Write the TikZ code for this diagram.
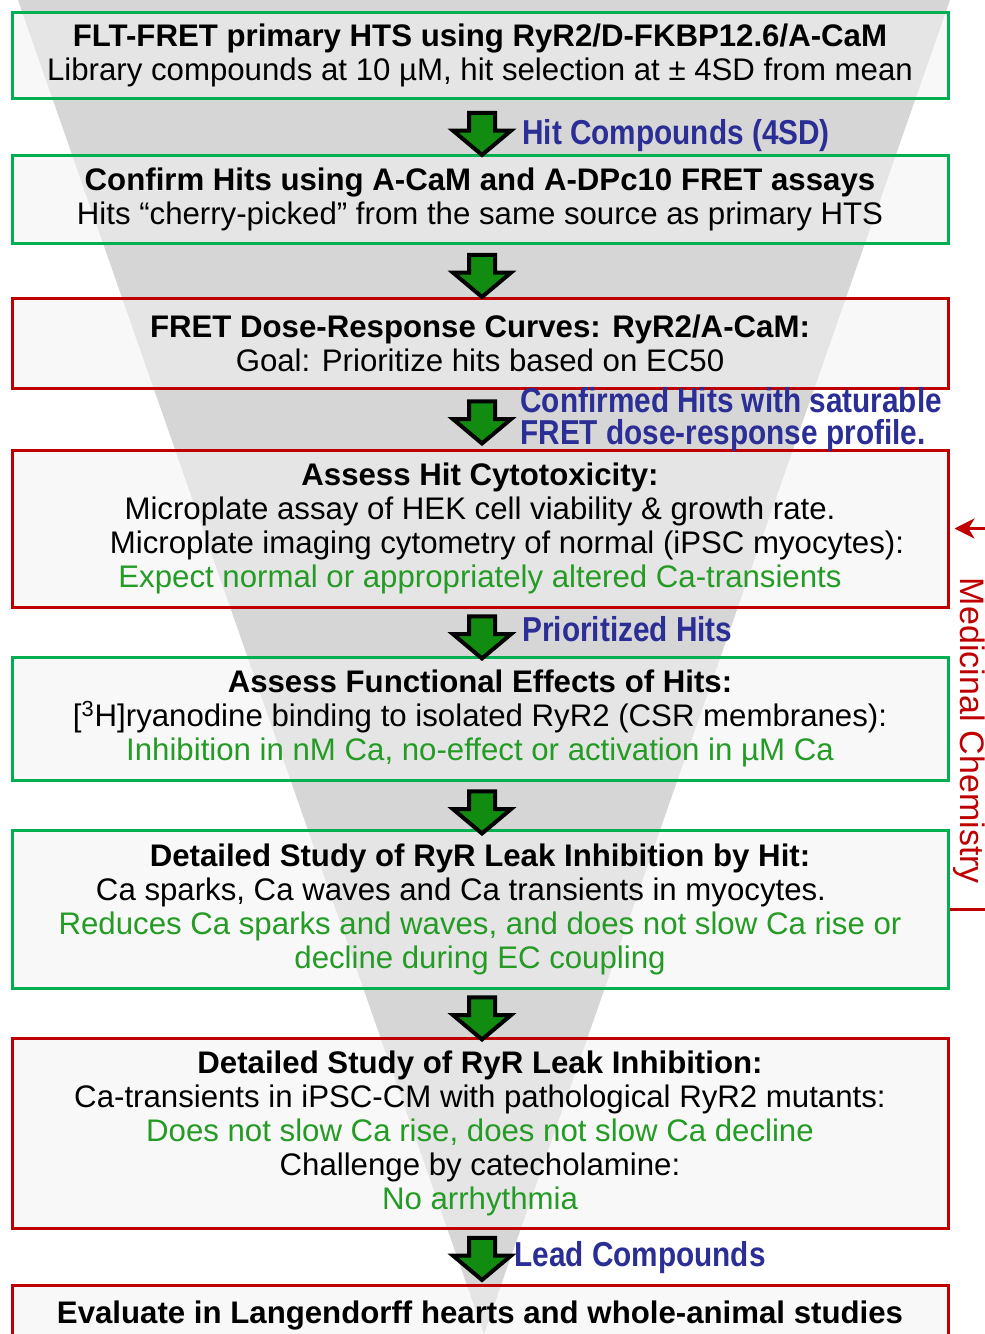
\documentclass[tikz,border=0pt]{standalone}
\usepackage{fontspec}
\setmainfont{Liberation Sans}
\newfontfamily\narrowfont[FakeStretch=0.86]{Liberation Sans}
\usetikzlibrary{shapes.arrows,calc,arrows.meta}
\definecolor{boxgreen}{HTML}{00B050}
\definecolor{boxred}{HTML}{C00000}
\definecolor{txtgreen}{HTML}{249B24}
\definecolor{txtblue}{HTML}{2B2E95}
\definecolor{arrgreen}{HTML}{118C11}
\definecolor{funnelgray}{HTML}{D6D6D6}
\newcommand{\grn}[1]{\textcolor{txtgreen}{#1}}

\begin{document}
\begin{tikzpicture}[x=0.5pt,y=-0.5pt,
	stage/.style={draw,line width=1.5pt,fill=black!5,fill opacity=0.55,text opacity=1,minimum width=468pt,align=center,inner sep=0pt,font=\fontsize{15.6}{17}\selectfont},
	okstage/.style={stage,draw=boxgreen},
	badstage/.style={stage,draw=boxred},
	downarrow/.style={single arrow,shape border rotate=270,draw=black,line width=2pt,fill=arrgreen,minimum height=21pt,inner sep=5.5pt,single arrow head extend=8pt,single arrow tip angle=100},
	hitlabel/.style={text=txtblue,anchor=west,align=left,inner sep=0pt,font=\narrowfont\bfseries\fontsize{17.3}{16}\selectfont}]
	\useasboundingbox (0,0) rectangle (985,1334);
	\clip (0,0) rectangle (985,1334);
	% funnel behind the stages
	\fill[funnelgray] (18,0) -- (950,0) -- (484,1334) -- cycle;

	\node[okstage,minimum height=43pt] (b1) at (480,55) {\textbf{FLT-FRET primary HTS using RyR2/D-FKBP12.6/A-CaM}\\Library compounds at 10 µM, hit selection at ± 4SD from mean};
	\node[okstage,minimum height=44pt] (b2) at (480,199) {\textbf{Confirm Hits using A-CaM and A-DPc10 FRET assays}\\Hits “cherry-picked” from the same source as primary HTS};
	\node[badstage,minimum height=45pt] (b3) at (480,343) {\textbf{FRET Dose-Response Curves: RyR2/A-CaM:}\\Goal: Prioritize hits based on EC50};
	\node[badstage,minimum height=78.5pt] (b4) at (480,528.5) {\textbf{Assess Hit Cytotoxicity:}\\Microplate assay of HEK cell viability \& growth rate.\\\hspace*{27pt}Microplate imaging cytometry of normal (iPSC myocytes):\\\grn{Expect normal or appropriately altered Ca-transients}};
	\node[okstage,minimum height=61.5pt] (b5) at (480,718.5) {\textbf{Assess Functional Effects of Hits:}\\{[}\textsuperscript{3}H]ryanodine binding to isolated RyR2 (CSR membranes):\\\grn{Inhibition in nM Ca, no-effect or activation in µM Ca}};
	\node[okstage,minimum height=79pt] (b6) at (480,909) {\textbf{Detailed Study of RyR Leak Inhibition by Hit:}\\Ca sparks, Ca waves and Ca transients in myocytes.\hspace*{19pt}\mbox{}\\\grn{Reduces Ca sparks and waves, and does not slow Ca rise or}\\\grn{decline during EC coupling}};
	\node[badstage,minimum height=95pt] (b7) at (480,1133) {\textbf{Detailed Study of RyR Leak Inhibition:}\\Ca-transients in iPSC-CM with pathological RyR2 mutants:\\\grn{Does not slow Ca rise, does not slow Ca decline}\\Challenge by catecholamine:\\\grn{No arrhythmia}};
	\node[badstage,minimum height=30pt] (b8) at (480,1315) {\textbf{Evaluate in Langendorff hearts and whole-animal studies}};

	\node[downarrow] (a1) at ($(b1.south)!0.5!(b2.north)+(2,2)$) {};
	\node[downarrow] (a2) at ($(b2.south)!0.5!(b3.north)+(2,0)$) {};
	\node[downarrow] (a3) at ($(b3.south)!0.5!(b4.north)+(2,-2)$) {};
	\node[downarrow] (a4) at ($(b4.south)!0.5!(b5.north)+(2,0)$) {};
	\node[downarrow] (a5) at ($(b5.south)!0.5!(b6.north)+(2,2)$) {};
	\node[downarrow] (a6) at ($(b6.south)!0.5!(b7.north)+(2,0)$) {};
	\node[downarrow] (a7) at ($(b7.south)!0.5!(b8.north)+(2,-3)$) {};

	\node[hitlabel] (l1) at (522,136) {Hit Compounds (4SD)};
	\node[hitlabel] (l3) at (520,420) {Confirmed Hits with saturable\\FRET dose-response profile.};
	\node[hitlabel] (l4) at (522,629) {Prioritized Hits};
	\node[hitlabel] (l7) at (514,1258) {Lead Compounds};

	\draw[boxred,line width=1.5pt,shorten >=2.5pt,-{Stealth[length=10pt,width=10pt,inset=3pt]}] (b6.east) -- ++(42,0) |- (b4.east);
	\node[text=boxred,rotate=-90,inner sep=0pt,font=\fontsize{17}{17}\selectfont] (mc) at (969,731) {Medicinal Chemistry};
\end{tikzpicture}
\end{document}
